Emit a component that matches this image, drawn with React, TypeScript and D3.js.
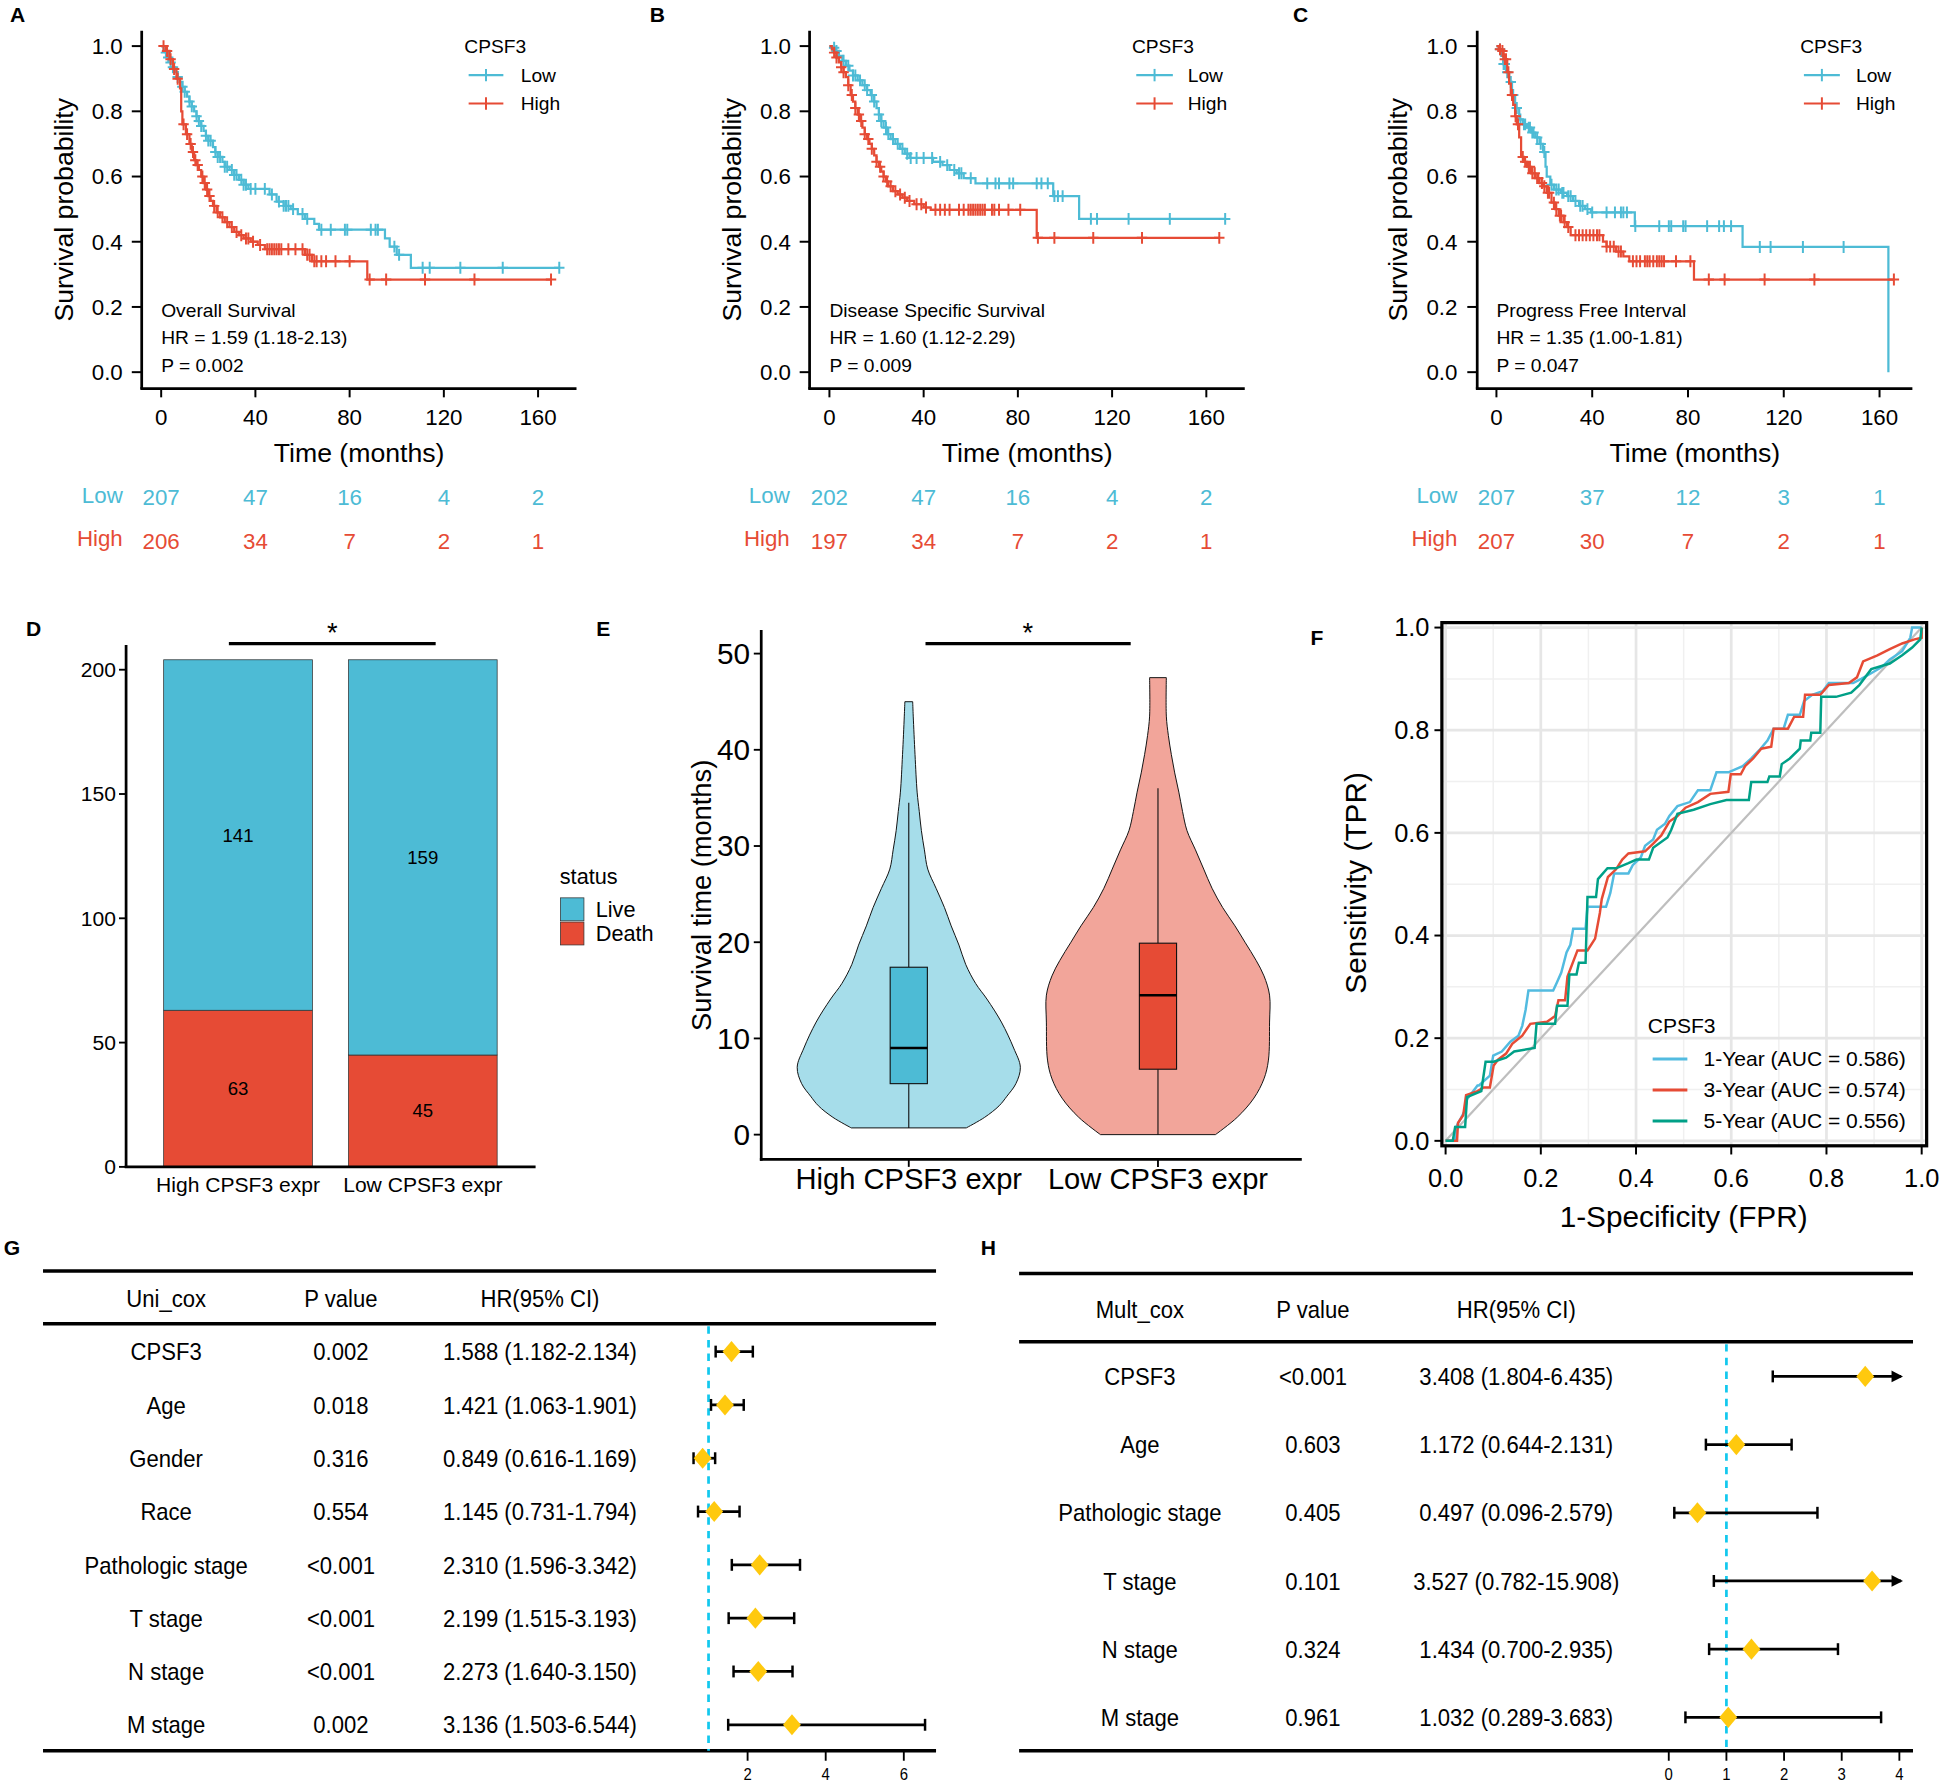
import React from 'react';
import * as d3 from 'd3';

const W = 1568, H = 1441;
const FONT = "'Liberation Sans', Arial, Helvetica, sans-serif";
const BLUE = '#4DBBD5', RED = '#E64B35', GREEN = '#00A087';
const GOLD = '#FFC90E', CYAN = '#12C8EE';

// ---------------- KM data ----------------
const kmTicks = [0, 40, 80, 120, 160];
const kmYTicks = [0, 0.2, 0.4, 0.6, 0.8, 1.0];

const aLowT = [1,2,3,4,5,6,7,8,9,10,11,12,13,14,15,16,17,18,19,20,22,23,24,26,27,29,31,33,35,37,46,49,52,55,58,61,65,67,95,97,100,106];
const aLowS = [0.99,0.98,0.965,0.95,0.935,0.92,0.905,0.89,0.875,0.86,0.845,0.83,0.815,0.80,0.785,0.77,0.755,0.74,0.725,0.71,0.69,0.675,0.66,0.645,0.63,0.62,0.605,0.59,0.575,0.562,0.545,0.523,0.51,0.50,0.485,0.47,0.455,0.437,0.41,0.385,0.36,0.32];
const aLowC = [2,3,4,5,7,9,10,12,13,15,16,17,19,20,21,23,24,25,27,28,30,31,32,34,35,36,38,40,44,47,50,52,53,54,56,60,62,68,72,78,79,89,91,92,99,101,111,114,127,145,169];
const aHighT = [2,3.5,5,6.5,8,8.5,9,10.5,12,13,14,15,16,17,18,19,20,21,22,23.5,25,27,29,31,33,35,38,41,44,61,64,87.5];
const aHighS = [0.985,0.96,0.93,0.90,0.87,0.80,0.76,0.73,0.70,0.675,0.65,0.635,0.62,0.60,0.58,0.56,0.54,0.525,0.51,0.49,0.475,0.46,0.445,0.43,0.42,0.41,0.40,0.39,0.377,0.36,0.34,0.284];
const aHighC = [1,2.5,4,5.5,7,9.5,11,12.5,13.5,14.5,15.5,17.5,18.5,19.5,20.5,22.5,24,26,28,30,32,34,36,37,39,42,45,46,47,48,49,50,51,54,57,60,62,63,65,66,68,70,74,80,88.5,95.5,112,133,165.5];
const aRiskLow = [207, 47, 16, 4, 2];
const aRiskHigh = [206, 34, 7, 2, 1];

const bLowT = [1,2.5,4,5.5,7,8.5,10,12,14,16,17.5,19,20,21,22,23,24.5,26,28,30,32,34,44,48,51,54,57,62,95,106];
const bLowS = [0.995,0.985,0.97,0.955,0.94,0.925,0.91,0.895,0.88,0.865,0.85,0.83,0.81,0.79,0.77,0.75,0.73,0.715,0.70,0.685,0.67,0.657,0.645,0.635,0.62,0.61,0.595,0.579,0.54,0.47];
const bLowC = [2,3,4,6,8,10,11,13,15,16,18,19,21,22,24,25,27,29,31,33,34.5,37,40,43.6,47,50,53,55,56,60,67,70.5,72,76.4,78,88,90,92.7,95.5,97,99,111,113.6,127,144.5,168];
const bHighT = [1,2,3,4,5,6,7,8,9,10,11,12,13,14,15,16,17,18,19,20,21,22,23,24,25,27,29,31,33,36,40,43,88];
const bHighS = [0.99,0.98,0.965,0.95,0.935,0.92,0.905,0.88,0.85,0.83,0.81,0.79,0.77,0.75,0.73,0.715,0.70,0.685,0.665,0.645,0.63,0.615,0.60,0.585,0.57,0.555,0.545,0.535,0.525,0.515,0.505,0.498,0.412];
const bHighC = [2,3,5,6,8,9.5,11,12.5,13.5,15,16.5,18,20,21.5,23,24.5,26,28,30,32,34,37,39,41,45,47,49,51,55,57,59,60,61,62,63,64,65,66,69,70,72,76,81,88.5,95.5,112,132.7,165.5];
const bRiskLow = [202, 47, 16, 4, 2];
const bRiskHigh = [197, 34, 7, 2, 1];

const cLowT = [1,2,2.8,4,5.3,6.5,7.8,9.5,11,12.8,14.5,16.2,18,19.5,20.5,21,22.5,24,27,29.5,32,34.5,37,39.5,57.8,102.8,163.7];
const cLowS = [0.99,0.97,0.945,0.92,0.89,0.85,0.81,0.775,0.76,0.75,0.735,0.72,0.70,0.675,0.63,0.60,0.575,0.56,0.55,0.54,0.525,0.51,0.50,0.49,0.448,0.384,0];
const cLowC = [1.5,3,3.5,4.5,6,7,8.5,10,11.5,12,13.5,14,15,15.5,17,18.5,20,23,25,26,27.5,28,30,31,33,35,36,38,40,46,49.5,52,53,54.5,58,68,72,73,78,79,88,93,95,98,110,114.5,128,145];
const cHighT = [1,2,3,4.5,5.3,6,7,7.8,8.5,9.5,10.3,11.5,12.8,14.5,16.2,18,19.5,21,23,24.5,26,28,29.5,31,44.5,46,50,53,55.5,82.5];
const cHighS = [0.99,0.985,0.96,0.92,0.885,0.85,0.82,0.785,0.76,0.72,0.66,0.645,0.63,0.61,0.595,0.58,0.57,0.55,0.52,0.50,0.48,0.46,0.445,0.42,0.40,0.385,0.37,0.355,0.34,0.284];
const cHighC = [1.5,2.5,3.5,4,5,6.5,8,9,11,12,13.5,14,15,16,17,17.5,19,20,21.5,22,24,25,26.5,27,28.5,30,33,34.5,36,37.5,39,40.5,42,43,46,47.5,49,51,52,57,58.5,60,62,63,64,65.5,67,68,69,70,75,81,88.7,95.3,112,132.8,166];
const cRiskLow = [207, 37, 12, 3, 1];
const cRiskHigh = [207, 30, 7, 2, 1];

// ---------------- D data ----------------
const dCats = ['High CPSF3 expr', 'Low CPSF3 expr'];
const dDeath = [63, 45];
const dLive = [141, 159];
const dYTicks = [0, 50, 100, 150, 200];

// ---------------- E data ----------------
const eCats = ['High CPSF3 expr', 'Low CPSF3 expr'];
const eYTicks = [0, 10, 20, 30, 40, 50];
const highViolinY = [0.7,1.8,3,4,5.3,7,9,11.7,14.1,15.7,17.7,19.7,21.7,23.6,25.6,27.6,29.6,31.6,33.6,35.6,39.5,43.5,45];
const highViolinD = [0.515,0.68,0.81,0.88,0.96,1.0,0.94,0.83,0.70,0.60,0.51,0.45,0.38,0.32,0.245,0.17,0.14,0.113,0.094,0.075,0.056,0.04,0.035];
const lowViolinY = [0,1.8,3.8,5.8,7.75,11.7,14.5,16.5,18.1,20,21.7,23.6,25.6,27.6,29.6,31.6,33.6,35.6,37.6,39.5,41.5,43.5,47.5];
const lowViolinD = [0.515,0.71,0.86,0.95,0.99,1.0,1.0,0.95,0.88,0.78,0.69,0.58,0.485,0.41,0.336,0.26,0.22,0.187,0.15,0.12,0.093,0.075,0.075];
const highBox = { q1: 5.3, med: 9.0, q3: 17.4, lo: 0.7, hi: 34.5 };
const lowBox = { q1: 6.8, med: 14.5, q3: 19.9, lo: 0, hi: 36 };

// ---------------- F data ----------------
const rocTicks = [0, 0.2, 0.4, 0.6, 0.8, 1.0];
const roc1Year = [[0,0],[0.02,0],[0.022,0.027],[0.04,0.058],[0.045,0.081],[0.067,0.108],[0.07,0.108],[0.093,0.127],[0.1,0.166],[0.118,0.174],[0.136,0.193],[0.153,0.205],[0.161,0.224],[0.168,0.255],[0.174,0.293],[0.226,0.293],[0.234,0.309],[0.243,0.328],[0.254,0.367],[0.262,0.382],[0.268,0.413],[0.294,0.413],[0.298,0.456],[0.337,0.456],[0.346,0.483],[0.354,0.521],[0.384,0.521],[0.393,0.537],[0.41,0.552],[0.419,0.575],[0.436,0.587],[0.444,0.606],[0.461,0.618],[0.47,0.633],[0.487,0.652],[0.513,0.66],[0.53,0.683],[0.556,0.683],[0.569,0.718],[0.594,0.718],[0.624,0.73],[0.642,0.745],[0.659,0.761],[0.676,0.78],[0.689,0.803],[0.71,0.803],[0.719,0.83],[0.744,0.83],[0.753,0.857],[0.77,0.869],[0.792,0.876],[0.805,0.892],[0.856,0.892],[0.873,0.9],[0.894,0.911],[0.916,0.923],[0.933,0.938],[0.959,0.954],[0.976,0.98],[0.98,1],[1,1]];
const roc3Year = [[0,0],[0.024,0],[0.026,0.035],[0.037,0.05],[0.043,0.089],[0.067,0.097],[0.08,0.104],[0.093,0.104],[0.101,0.147],[0.11,0.158],[0.127,0.17],[0.14,0.189],[0.161,0.205],[0.178,0.228],[0.213,0.232],[0.23,0.243],[0.237,0.274],[0.251,0.274],[0.256,0.32],[0.277,0.371],[0.298,0.371],[0.314,0.394],[0.324,0.444],[0.328,0.471],[0.341,0.514],[0.358,0.529],[0.371,0.548],[0.384,0.56],[0.419,0.564],[0.436,0.579],[0.453,0.595],[0.47,0.622],[0.487,0.633],[0.504,0.649],[0.53,0.66],[0.556,0.676],[0.594,0.68],[0.599,0.714],[0.62,0.714],[0.629,0.73],[0.646,0.745],[0.663,0.764],[0.684,0.768],[0.689,0.803],[0.719,0.803],[0.732,0.826],[0.751,0.826],[0.755,0.869],[0.787,0.869],[0.805,0.888],[0.847,0.892],[0.864,0.903],[0.877,0.934],[0.907,0.946],[0.933,0.958],[0.959,0.969],[0.985,0.977],[1,0.98],[1,1]];
const roc5Year = [[0,0],[0.015,0],[0.02,0.027],[0.041,0.027],[0.045,0.085],[0.075,0.097],[0.084,0.154],[0.101,0.154],[0.127,0.162],[0.144,0.174],[0.187,0.181],[0.191,0.228],[0.23,0.228],[0.234,0.263],[0.256,0.263],[0.26,0.324],[0.275,0.324],[0.28,0.347],[0.294,0.347],[0.298,0.475],[0.316,0.475],[0.32,0.51],[0.34,0.531],[0.358,0.531],[0.384,0.541],[0.401,0.548],[0.427,0.548],[0.436,0.571],[0.466,0.591],[0.474,0.606],[0.487,0.637],[0.521,0.645],[0.556,0.656],[0.59,0.664],[0.637,0.664],[0.642,0.699],[0.676,0.699],[0.68,0.71],[0.702,0.71],[0.706,0.734],[0.723,0.745],[0.744,0.764],[0.746,0.78],[0.766,0.78],[0.768,0.795],[0.787,0.795],[0.789,0.865],[0.82,0.865],[0.852,0.873],[0.869,0.888],[0.894,0.919],[0.933,0.93],[0.959,0.946],[0.98,0.961],[0.997,0.977],[1,1]];
const rocLabels = ['1-Year (AUC = 0.586)', '3-Year (AUC = 0.574)', '5-Year (AUC = 0.556)'];

// ---------------- G / H data ----------------
const uniVars = ['CPSF3','Age','Gender','Race','Pathologic stage','T stage','N stage','M stage'];
const uniP = ['0.002','0.018','0.316','0.554','<0.001','<0.001','<0.001','0.002'];
const uniHR = [1.588,1.421,0.849,1.145,2.310,2.199,2.273,3.136];
const uniLo = [1.182,1.063,0.616,0.731,1.596,1.515,1.640,1.503];
const uniHi = [2.134,1.901,1.169,1.794,3.342,3.193,3.150,6.544];
const uniTicks = [2, 4, 6];

const multVars = ['CPSF3','Age','Pathologic stage','T stage','N stage','M stage'];
const multP = ['<0.001','0.603','0.405','0.101','0.324','0.961'];
const multHR = [3.408,1.172,0.497,3.527,1.434,1.032];
const multLo = [1.804,0.644,0.096,0.782,0.700,0.289];
const multHi = [6.435,2.131,2.579,15.908,2.935,3.683];
const multTicks = [0, 1, 2, 3, 4];

// ---------------- helpers ----------------
const T = (props: any) => {
  const { x, y, size = 16, anchor = 'start', fill = '#000', weight = 'normal', rotate, children, sx } = props;
  let transform: string | undefined = undefined;
  if (rotate) transform = `rotate(${rotate},${x},${y})`;
  if (sx) {
    return (
      <text transform={`translate(${x},${y}) scale(${sx},1)`} fontSize={size} textAnchor={anchor}
        fill={fill} fontWeight={weight} fontFamily={FONT} dy="0.35em">{children}</text>
    );
  }
  return (
    <text x={x} y={y} fontSize={size} textAnchor={anchor} fill={fill} fontWeight={weight}
      fontFamily={FONT} dy="0.35em" transform={transform}>{children}</text>
  );
};

function KM({ p }: any) {
  const x = d3.scaleLinear().domain([0, 160]).range([p.x0, p.x160]);
  const y = d3.scaleLinear().domain([0, 1]).range([300, 37]);
  const line = d3.line<number[]>().x(d => x(d[0])).y(d => y(d[1]));
  const steps = (Ts: number[], Ss: number[], Cs: number[]) => {
    const pts: number[][] = [[0, 1]];
    let prev = 1;
    Ts.forEach((t, i) => { pts.push([t, prev]); pts.push([t, Ss[i]]); prev = Ss[i]; });
    const end = Math.max(Ts[Ts.length - 1], ...Cs);
    if (end > Ts[Ts.length - 1]) pts.push([end, prev]);
    return pts;
  };
  const survAt = (Ts: number[], Ss: number[], t: number) => {
    let s = 1;
    for (let i = 0; i < Ts.length; i++) if (Ts[i] <= t) s = Ss[i];
    return s;
  };
  const censorPath = (Ts: number[], Ss: number[], Cs: number[]) =>
    Cs.map(c => { const cx = x(c), cy = y(survAt(Ts, Ss, c)); return `M${cx - 4.2},${cy}h8.4M${cx},${cy - 4.8}v9.6`; }).join('');
  const axTop = 24.7, axBot = 313.3;
  const series = [
    { T: p.lowT, S: p.lowS, C: p.lowC, col: BLUE },
    { T: p.highT, S: p.highS, C: p.highC, col: RED },
  ];
  return (
    <g>
      {series.map((s, i) => (
        <g key={i}>
          <path d={line(steps(s.T, s.S, s.C)) || ''} fill="none" stroke={s.col} strokeWidth={1.8} />
          <path d={censorPath(s.T, s.S, s.C)} stroke={s.col} strokeWidth={1.6} fill="none" />
        </g>
      ))}
      <line x1={p.yAxisX} x2={p.yAxisX} y1={axTop} y2={axBot} stroke="#000" strokeWidth={2.2} />
      <line x1={p.yAxisX - 1.1} x2={p.axisRight} y1={axBot} y2={axBot} stroke="#000" strokeWidth={2.2} />
      {kmYTicks.map(t => (
        <g key={t}>
          <line x1={p.yAxisX - 8} x2={p.yAxisX} y1={y(t)} y2={y(t)} stroke="#000" strokeWidth={1.6} />
          <T x={p.tickRight} y={y(t)} size={18} anchor="end">{t.toFixed(1)}</T>
        </g>
      ))}
      {kmTicks.map((t, i) => (
        <g key={t}>
          <line x1={x(t)} x2={x(t)} y1={axBot} y2={axBot + 7} stroke="#000" strokeWidth={1.6} />
          <T x={x(t)} y={336.7} size={18} anchor="middle">{t}</T>
          <T x={x(t)} y={401} size={18} anchor="middle" fill={BLUE}>{p.riskLow[i]}</T>
          <T x={x(t)} y={436} size={18} anchor="middle" fill={RED}>{p.riskHigh[i]}</T>
        </g>
      ))}
      <T x={p.riskRight} y={399} size={18} anchor="end" fill={BLUE}>Low</T>
      <T x={p.riskRight} y={434} size={18} anchor="end" fill={RED}>High</T>
      <T x={(p.yAxisX + p.axisRight) / 2} y={365} size={21.5} anchor="middle">Time (months)</T>
      <T x={p.yTitleX} y={(axTop + axBot) / 2} size={21.5} anchor="middle" rotate={-90}>Survival probability</T>
      <T x={p.legX} y={37} size={15.5}>CPSF3</T>
      {[{ lab: 'Low', col: BLUE, yy: 60.4 }, { lab: 'High', col: RED, yy: 83.3 }].map(l => (
        <g key={l.lab}>
          <line x1={p.legL0} x2={p.legL1} y1={l.yy} y2={l.yy} stroke={l.col} strokeWidth={1.8} />
          <line x1={(p.legL0 + p.legL1) / 2} x2={(p.legL0 + p.legL1) / 2} y1={l.yy - 5} y2={l.yy + 5} stroke={l.col} strokeWidth={1.6} />
          <T x={p.legTX} y={l.yy} size={15.5}>{l.lab}</T>
        </g>
      ))}
      <T x={p.x0} y={250} size={15.5}>{p.title}</T>
      <T x={p.x0} y={272} size={15.5}>{p.hr}</T>
      <T x={p.x0} y={294.5} size={15.5}>{p.pv}</T>
    </g>
  );
}

const kmPanels = [
  { x0: 130, x160: 434, yAxisX: 114.3, axisRight: 465, tickRight: 99, yTitleX: 51.5, legX: 374.5, legL0: 378, legL1: 406, legTX: 420, riskRight: 99,
    lowT: aLowT, lowS: aLowS, lowC: aLowC, highT: aHighT, highS: aHighS, highC: aHighC, riskLow: aRiskLow, riskHigh: aRiskHigh,
    title: 'Overall Survival', hr: 'HR = 1.59 (1.18-2.13)', pv: 'P = 0.002' },
  { x0: 669, x160: 973, yAxisX: 653, axisRight: 1004, tickRight: 638, yTitleX: 590, legX: 913, legL0: 916.5, legL1: 946, legTX: 958, riskRight: 637,
    lowT: bLowT, lowS: bLowS, lowC: bLowC, highT: bHighT, highS: bHighS, highC: bHighC, riskLow: bRiskLow, riskHigh: bRiskHigh,
    title: 'Disease Specific Survival', hr: 'HR = 1.60 (1.12-2.29)', pv: 'P = 0.009' },
  { x0: 1207, x160: 1516, yAxisX: 1191.5, axisRight: 1542.5, tickRight: 1175.5, yTitleX: 1127, legX: 1452, legL0: 1455, legL1: 1484, legTX: 1497, riskRight: 1175.5,
    lowT: cLowT, lowS: cLowS, lowC: cLowC, highT: cHighT, highS: cHighS, highC: cHighC, riskLow: cRiskLow, riskHigh: cRiskHigh,
    title: 'Progress Free Interval', hr: 'HR = 1.35 (1.00-1.81)', pv: 'P = 0.047' },
];

function PanelD() {
  const x = d3.scaleBand().domain(dCats).range([132, 401]).paddingInner(0.195);
  const y = d3.scaleLinear().domain([0, 200]).range([941, 540]);
  const rows = dCats.map((c, i) => ({ cat: c, Death: dDeath[i], Live: dLive[i] }));
  const stack = d3.stack<any>().keys(['Death', 'Live'])(rows);
  const colors: any = { Death: RED, Live: BLUE };
  return (
    <g>
      {stack.map(layer => layer.map((seg: any, i: number) => (
        <g key={layer.key + i}>
          <rect x={x(seg.data.cat)} width={x.bandwidth()} y={y(seg[1])} height={y(seg[0]) - y(seg[1])}
            fill={colors[layer.key]} stroke="#333" strokeWidth={0.6} />
          <T x={(x(seg.data.cat) as number) + x.bandwidth() / 2} y={y((seg[0] + seg[1]) / 2)} size={15} anchor="middle">{seg[1] - seg[0]}</T>
        </g>
      )))}
      <line x1={101.7} x2={101.7} y1={520} y2={942} stroke="#000" strokeWidth={2.2} />
      <line x1={100.6} x2={432} y1={941} y2={941} stroke="#000" strokeWidth={2.2} />
      {dYTicks.map(t => (
        <g key={t}>
          <line x1={96} x2={101.7} y1={y(t)} y2={y(t)} stroke="#000" strokeWidth={1.5} />
          <T x={93.5} y={y(t)} size={17} anchor="end">{t}</T>
        </g>
      ))}
      {dCats.map(c => (
        <T key={c} x={(x(c) as number) + x.bandwidth() / 2} y={955} size={17} anchor="middle">{c}</T>
      ))}
      <line x1={184.6} x2={351.4} y1={519} y2={519} stroke="#000" strokeWidth={2.6} />
      <T x={268} y={510} size={22} anchor="middle">*</T>
      <T x={451.5} y={706.5} size={17.5}>status</T>
      <rect x={452} y={724} width={19} height={18.5} fill={BLUE} stroke="#333" strokeWidth={0.6} />
      <rect x={452} y={743.5} width={19} height={18.5} fill={RED} stroke="#333" strokeWidth={0.6} />
      <T x={480.5} y={733.5} size={17.5}>Live</T>
      <T x={480.5} y={753} size={17.5}>Death</T>
    </g>
  );
}

function PanelE() {
  const x = d3.scalePoint().domain(eCats).range([733, 934]);
  const y = d3.scaleLinear().domain([0, 50]).range([915, 527]);
  const hw = d3.scaleLinear().domain([0, 1]).range([0, 90]);
  const violin = (cx: number, Ys: number[], Ds: number[]) => {
    const pts = Ys.map((v, i) => ({ v, d: Ds[i] }));
    return d3.area<any>().y(d => y(d.v)).x0(d => cx - hw(d.d)).x1(d => cx + hw(d.d)).curve(d3.curveCatmullRom)(pts) || '';
  };
  const groups = [
    { cat: eCats[0], Ys: highViolinY, Ds: highViolinD, box: highBox, fill: '#A6DDEA', bfill: BLUE },
    { cat: eCats[1], Ys: lowViolinY, Ds: lowViolinD, box: lowBox, fill: '#F2A59A', bfill: RED },
  ];
  const bw = 15;
  return (
    <g>
      {groups.map(g => {
        const cx = x(g.cat) as number;
        return (
          <g key={g.cat}>
            <path d={violin(cx, g.Ys, g.Ds)} fill={g.fill} stroke="#111" strokeWidth={0.8} />
            <line x1={cx} x2={cx} y1={y(g.box.lo)} y2={y(g.box.q1)} stroke="#111" strokeWidth={0.9} />
            <line x1={cx} x2={cx} y1={y(g.box.q3)} y2={y(g.box.hi)} stroke="#111" strokeWidth={0.9} />
            <rect x={cx - bw} width={bw * 2} y={y(g.box.q3)} height={y(g.box.q1) - y(g.box.q3)} fill={g.bfill} stroke="#111" strokeWidth={0.9} />
            <line x1={cx - bw} x2={cx + bw} y1={y(g.box.med)} y2={y(g.box.med)} stroke="#000" strokeWidth={2} />
            <T x={cx} y={950.5} size={23.5} anchor="middle">{g.cat}</T>
          </g>
        );
      })}
      <line x1={614} x2={614} y1={508} y2={936} stroke="#000" strokeWidth={2.2} />
      <line x1={612.9} x2={1050} y1={935} y2={935} stroke="#000" strokeWidth={2.2} />
      {eYTicks.map(t => (
        <g key={t}>
          <line x1={608} x2={614} y1={y(t)} y2={y(t)} stroke="#000" strokeWidth={1.5} />
          <T x={605} y={y(t)} size={24} anchor="end">{t}</T>
        </g>
      ))}
      {eCats.map(c => (
        <line key={c} x1={x(c)} x2={x(c)} y1={935} y2={941} stroke="#000" strokeWidth={1.5} />
      ))}
      <T x={566} y={722} size={22} anchor="middle" rotate={-90}>Survival time (months)</T>
      <line x1={746.5} x2={912} y1={519} y2={519} stroke="#000" strokeWidth={2.6} />
      <T x={829} y={510} size={22} anchor="middle">*</T>
    </g>
  );
}

function PanelF() {
  const x = d3.scaleLinear().domain([0, 1]).range([1166, 1550]);
  const y = d3.scaleLinear().domain([0, 1]).range([920, 506]);
  const line = d3.line<number[]>().x(d => x(d[0])).y(d => y(d[1]));
  const minor = [0.1, 0.3, 0.5, 0.7, 0.9];
  const curves = [{ d: roc1Year, c: '#52BBE0' }, { d: roc3Year, c: RED }, { d: roc5Year, c: GREEN }];
  const L = 1163, R = 1554, Tp = 502, B = 924;
  return (
    <g>
      <rect x={L} y={Tp} width={R - L} height={B - Tp} fill="#fff" />
      {minor.map(m => (
        <g key={'m' + m}>
          <line x1={x(m)} x2={x(m)} y1={Tp} y2={B} stroke="#F0F0F0" strokeWidth={1.2} />
          <line x1={L} x2={R} y1={y(m)} y2={y(m)} stroke="#F0F0F0" strokeWidth={1.2} />
        </g>
      ))}
      {rocTicks.map(m => (
        <g key={'M' + m}>
          <line x1={x(m)} x2={x(m)} y1={Tp} y2={B} stroke="#E6E6E6" strokeWidth={2.2} />
          <line x1={L} x2={R} y1={y(m)} y2={y(m)} stroke="#E6E6E6" strokeWidth={2.2} />
        </g>
      ))}
      <line x1={x(0)} y1={y(0)} x2={x(1)} y2={y(1)} stroke="#BEBEBE" strokeWidth={1.8} />
      {curves.map((c, i) => (
        <path key={i} d={line(c.d as any) || ''} fill="none" stroke={c.c} strokeWidth={2} />
      ))}
      <rect x={L} y={Tp} width={R - L} height={B - Tp} fill="none" stroke="#000" strokeWidth={2.6} />
      {rocTicks.map(t => (
        <g key={t}>
          <line x1={L - 6} x2={L} y1={y(t)} y2={y(t)} stroke="#000" strokeWidth={1.6} />
          <T x={1153} y={y(t)} size={20.5} anchor="end">{t.toFixed(1)}</T>
          <line x1={x(t)} x2={x(t)} y1={B} y2={B + 7} stroke="#000" strokeWidth={1.6} />
          <T x={x(t)} y={950} size={20.5} anchor="middle">{t.toFixed(1)}</T>
        </g>
      ))}
      <T x={1358} y={981} size={24} anchor="middle">1-Specificity (FPR)</T>
      <T x={1093} y={712} size={24} anchor="middle" rotate={-90}>Sensitivity (TPR)</T>
      <T x={1329} y={827} size={17}>CPSF3</T>
      {rocLabels.map((l, i) => (
        <g key={l}>
          <line x1={1333} x2={1361} y1={854 + i * 25} y2={854 + i * 25} stroke={curves[i].c} strokeWidth={2.4} />
          <T x={1374} y={854 + i * 25} size={17}>{l}</T>
        </g>
      ))}
    </g>
  );
}

function Forest({ cfg }: any) {
  const x = d3.scaleLinear().domain(cfg.domain).range(cfg.range);
  const y = d3.scalePoint().domain(cfg.vars).range(cfg.rowRange);
  const SX = 0.89;
  const fs = 20;
  const capH = 4.8;
  return (
    <g>
      <line x1={cfg.l} x2={cfg.r} y1={cfg.top} y2={cfg.top} stroke="#000" strokeWidth={2.8} />
      <line x1={cfg.l} x2={cfg.r} y1={cfg.sep} y2={cfg.sep} stroke="#000" strokeWidth={2.8} />
      <line x1={cfg.l} x2={cfg.r} y1={1412} y2={1412} stroke="#000" strokeWidth={2.8} />
      <T x={cfg.c1} y={cfg.head} size={fs} anchor="middle" sx={SX}>{cfg.headName}</T>
      <T x={cfg.c2} y={cfg.head} size={fs} anchor="middle" sx={SX}>P value</T>
      <T x={cfg.c3} y={cfg.head} size={fs} anchor="middle" sx={SX}>HR(95% CI)</T>
      <line x1={x(1)} x2={x(1)} y1={cfg.sep + 2} y2={1412} stroke={CYAN} strokeWidth={2.2} strokeDasharray="6,5" />
      {cfg.vars.map((v: string, i: number) => {
        const yy = y(v) as number;
        const hi = cfg.hi[i], lo = cfg.lo[i], hr = cfg.hr[i];
        const clipped = hi > cfg.clip;
        const xl = x(lo), xh = clipped ? x(cfg.clip) : x(hi), xm = x(hr);
        return (
          <g key={v}>
            <T x={cfg.c1} y={yy} size={fs} anchor="middle" sx={SX}>{v}</T>
            <T x={cfg.c2} y={yy} size={fs} anchor="middle" sx={SX}>{cfg.p[i]}</T>
            <T x={cfg.c3} y={yy} size={fs} anchor="middle" sx={SX}>{`${hr.toFixed(3)} (${lo.toFixed(3)}-${hi.toFixed(3)})`}</T>
            <line x1={xl} x2={xh} y1={yy} y2={yy} stroke="#000" strokeWidth={2.2} />
            <line x1={xl} x2={xl} y1={yy - capH} y2={yy + capH} stroke="#000" strokeWidth={2} />
            {clipped
              ? <path d={`M${xh - 7},${yy - 3.6}L${xh},${yy}L${xh - 7},${yy + 3.6}Z`} fill="#000" stroke="#000" strokeWidth={1.4} />
              : <line x1={xh} x2={xh} y1={yy - capH} y2={yy + capH} stroke="#000" strokeWidth={2} />}
            <path d={`M${xm},${yy - 8.5}L${xm + 7.2},${yy}L${xm},${yy + 8.5}L${xm - 7.2},${yy}Z`} fill={GOLD} />
          </g>
        );
      })}
      {cfg.ticks.map((t: number) => (
        <g key={t}>
          <line x1={x(t)} x2={x(t)} y1={1412} y2={1420} stroke="#000" strokeWidth={1.5} />
          <T x={x(t)} y={1431} size={13.5} anchor="middle" sx={SX}>{t}</T>
        </g>
      ))}
    </g>
  );
}

const gCfg = { domain: [2, 6], range: [603, 729], vars: uniVars, rowRange: [1090, 1391], l: 34.7, r: 755, top: 1025, sep: 1067.6, head: 1047,
  c1: 134, c2: 275, c3: 435.5, headName: 'Uni_cox', p: uniP, hr: uniHR, lo: uniLo, hi: uniHi, ticks: uniTicks, clip: 99 };
const hCfg = { domain: [0, 4], range: [1346, 1532], vars: multVars, rowRange: [1110, 1385], l: 822, r: 1543, top: 1027, sep: 1082, head: 1055.5,
  c1: 919.4, c2: 1059, c3: 1223, headName: 'Mult_cox', p: multP, hr: multHR, lo: multLo, hi: multHi, ticks: multTicks, clip: 4.03 };

const panelLabels = [
  { t: 'A', x: 8, y: 12 }, { t: 'B', x: 524, y: 12 }, { t: 'C', x: 1043, y: 12 },
  { t: 'D', x: 21, y: 507 }, { t: 'E', x: 481, y: 507 }, { t: 'F', x: 1057, y: 514 },
  { t: 'G', x: 3, y: 1006 }, { t: 'H', x: 791, y: 1006 },
];

export default function App() {
  return (
    <svg width={1944} height={1787} viewBox={`0 0 ${W} ${H}`} style={{ position: 'absolute', left: 0, top: 0, background: '#fff' }}>
      <rect x={0} y={0} width={W} height={H} fill="#fff" />
      {kmPanels.map((p, i) => <KM key={i} p={p} />)}
      <PanelD />
      <PanelE />
      <PanelF />
      <Forest cfg={gCfg} />
      <Forest cfg={hCfg} />
      {panelLabels.map(l => <T key={l.t} x={l.x} y={l.y} size={17} weight="bold">{l.t}</T>)}
    </svg>
  );
}
